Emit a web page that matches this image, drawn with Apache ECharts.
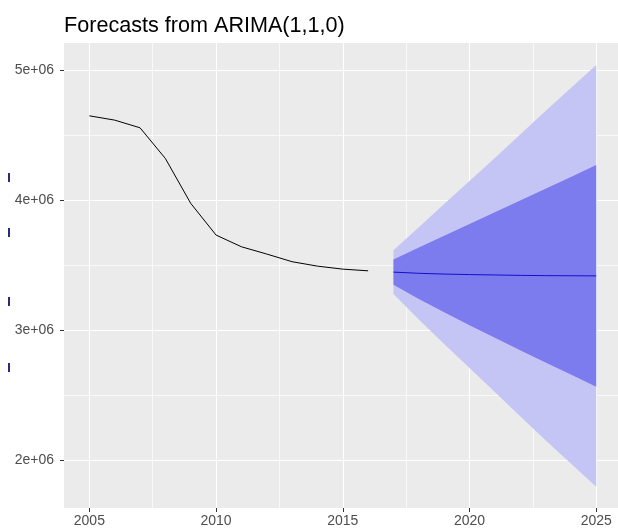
<!DOCTYPE html>
<html>
<head>
<meta charset="utf-8">
<title>Forecasts from ARIMA(1,1,0)</title>
<script src="https://cdn.jsdelivr.net/npm/echarts@6.0.0/dist/echarts.min.js"></script>
<style>
    html, body { margin: 0; padding: 0; background: #fff; }
    #chart { width: 618px; height: 530px; }
</style>
</head>
<body>
<div id="chart"></div>
<script>

// observed series
const histYears = [2005, 2006, 2007, 2008, 2009, 2010, 2011, 2012, 2013, 2014, 2015, 2016];
const histValues = [4648000, 4615000, 4556000, 4320000, 3975000, 3731000, 3641000, 3585000, 3526000, 3492000, 3469000, 3456000];

// forecast + intervals
const fcYears = [2017, 2018, 2019, 2020, 2021, 2022, 2023, 2024, 2025];
const fcMean = [3446000, 3437000, 3431000, 3427000, 3424000, 3421000, 3419000, 3418000, 3417000];
const lo80 = [3348000, 3239000, 3137000, 3038000, 2942000, 2845000, 2750000, 2658000, 2565000];
const hi80 = [3544000, 3635000, 3725000, 3816000, 3906000, 3997000, 4088000, 4178000, 4269000];
const lo95 = [3277000, 3082000, 2893000, 2708000, 2525000, 2338000, 2153000, 1974000, 1796000];
const hi95 = [3615000, 3792000, 3969000, 4146000, 4323000, 4504000, 4685000, 4862000, 5038000];

// ticks
const xTicks = [2005, 2010, 2015, 2020, 2025];
const xMinorTicks = [2007.5, 2012.5, 2017.5, 2022.5];
const yTicks = [2000000, 3000000, 4000000, 5000000];
const yTickLabels = ['2e+06', '3e+06', '4e+06', '5e+06'];
const yMinorTicks = [2500000, 3500000, 4500000];

const font = 'Liberation Sans, Arial, sans-serif';
const xMin = 2004, xMax = 2025.86;
const yMin = 1632000, yMax = 5208000;

const pairs = (xs, ys) => xs.map((x, i) => [x, ys[i]]);

// one polygon per band, drawn through the axis scales
const bandSeries = (lower, upper, color) => ({
    type: 'custom',
    silent: true,
    data: fcYears.map((x, i) => [x, lower[i], upper[i]]),
    encode: { x: 0, y: [1, 2] },
    renderItem: (params, api) => {
        if (params.dataIndex !== 0) {
            return null;
        }
        const top = fcYears.map((x, i) => api.coord([x, upper[i]]));
        const bottom = fcYears.map((x, i) => api.coord([x, lower[i]])).reverse();
        return {
            type: 'polygon',
            shape: { points: top.concat(bottom) },
            style: { fill: color }
        };
    }
});

const chart = echarts.init(document.getElementById('chart'));

const option = {
    animation: false,
    title: {
        text: 'Forecasts from ARIMA(1,1,0)',
        left: 59,
        top: 10,
        textStyle: { fontFamily: font, fontSize: 21.6, fontWeight: 'normal', color: '#000' }
    },
    grid: {
        left: 64,
        right: 0,
        top: 43,
        bottom: 22,
        show: true,
        backgroundColor: '#EBEBEB',
        borderWidth: 0
    },
    xAxis: [
        {
            type: 'value',
            min: xMin,
            max: xMax,
            axisLine: { show: false },
            axisTick: { customValues: xTicks, length: 4, lineStyle: { color: '#333', width: 1 } },
            axisLabel: {
                customValues: xTicks,
                color: '#4D4D4D',
                fontFamily: font,
                fontSize: 14,
                margin: 6,
                formatter: v => String(v)
            },
            splitLine: { show: true, lineStyle: { color: '#fff', width: 1.1 } }
        },
        {
            type: 'value',
            min: xMin,
            max: xMax,
            position: 'bottom',
            axisLine: { show: false },
            axisTick: { show: false, customValues: xMinorTicks },
            axisLabel: { show: false },
            splitLine: { show: true, lineStyle: { color: '#fff', width: 0.7 } }
        }
    ],
    yAxis: [
        {
            type: 'value',
            min: yMin,
            max: yMax,
            axisLine: { show: false },
            axisTick: { customValues: yTicks, length: 4, lineStyle: { color: '#333', width: 1 } },
            axisLabel: {
                customValues: yTicks,
                color: '#4D4D4D',
                fontFamily: font,
                fontSize: 14,
                margin: 10,
                formatter: v => yTickLabels[yTicks.indexOf(v)]
            },
            splitLine: { show: true, lineStyle: { color: '#fff', width: 1.1 } }
        },
        {
            type: 'value',
            min: yMin,
            max: yMax,
            position: 'left',
            axisLine: { show: false },
            axisTick: { show: false, customValues: yMinorTicks },
            axisLabel: { show: false },
            splitLine: { show: true, lineStyle: { color: '#fff', width: 0.7 } }
        }
    ],
    graphic: [
        { type: 'rect', shape: { x: 8, y: 173, width: 2, height: 9 }, style: { fill: '#2B2B7B' } },
        { type: 'rect', shape: { x: 8, y: 228, width: 2, height: 9 }, style: { fill: '#2B2B7B' } },
        { type: 'rect', shape: { x: 8, y: 297, width: 2, height: 9 }, style: { fill: '#2B2B7B' } },
        { type: 'rect', shape: { x: 8, y: 363, width: 2, height: 9 }, style: { fill: '#2B2B7B' } }
    ],
    series: [
        bandSeries(lo95, hi95, '#C5C5F5'),
        bandSeries(lo80, hi80, '#7C7CEE'),
        {
            type: 'line',
            symbol: 'none',
            lineStyle: { color: '#000', width: 1 },
            data: pairs(histYears, histValues)
        },
        {
            type: 'line',
            symbol: 'none',
            lineStyle: { color: '#1010CC', width: 1 },
            data: pairs(fcYears, fcMean)
        }
    ]
};

option && chart.setOption(option);

</script>
</body>
</html>
